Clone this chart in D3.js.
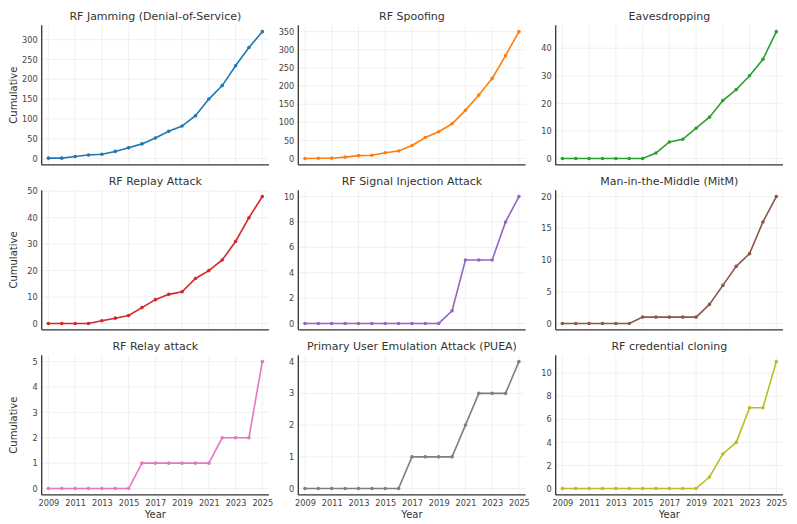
<!DOCTYPE html>
<html>
<head>
<meta charset="utf-8">
<script src="https://cdn.jsdelivr.net/npm/d3@7"></script>
<style>
  body { margin: 0; background: #fff; }
  svg text { font-family: "DejaVu Sans", sans-serif; }
  .title { font-size: 11px; fill: #333; text-anchor: middle; }
  .tick text { font-size: 8.2px; fill: #444; font-family: "DejaVu Sans", sans-serif; }
  .lab { font-size: 10px; fill: #333; text-anchor: middle; }
</style>
</head>
<body>
<div id="chart"></div>
<script>
let years = d3.range(2009, 2026);
let yearTicks = [2009, 2011, 2013, 2015, 2017, 2019, 2021, 2023, 2025];

let titles = [
  "RF Jamming (Denial-of-Service)", "RF Spoofing", "Eavesdropping",
  "RF Replay Attack", "RF Signal Injection Attack", "Man-in-the-Middle (MitM)",
  "RF Relay attack", "Primary User Emulation Attack (PUEA)", "RF credential cloning"
];
let colors = ["#1f77b4", "#ff7f0e", "#2ca02c", "#d62728", "#9467bd", "#8c564b", "#e377c2", "#7f7f7f", "#bcbd22"];

let jamming = [1, 1, 5, 9, 11, 18, 27, 37, 52, 69, 82, 108, 150, 184, 234, 280, 320];
let spoofing = [0, 1, 1, 4, 8, 9, 16, 21, 36, 58, 74, 96, 133, 175, 221, 284, 350];
let eavesdropping = [0, 0, 0, 0, 0, 0, 0, 2, 6, 7, 11, 15, 21, 25, 30, 36, 46];
let replay = [0, 0, 0, 0, 1, 2, 3, 6, 9, 11, 12, 17, 20, 24, 31, 40, 48];
let injection = [0, 0, 0, 0, 0, 0, 0, 0, 0, 0, 0, 1, 5, 5, 5, 8, 10];
let mitm = [0, 0, 0, 0, 0, 0, 1, 1, 1, 1, 1, 3, 6, 9, 11, 16, 20];
let relay = [0, 0, 0, 0, 0, 0, 0, 1, 1, 1, 1, 1, 1, 2, 2, 2, 5];
let puea = [0, 0, 0, 0, 0, 0, 0, 0, 1, 1, 1, 1, 2, 3, 3, 3, 4];
let cloning = [0, 0, 0, 0, 0, 0, 0, 0, 0, 0, 0, 1, 3, 4, 7, 7, 11];

let series = [jamming, spoofing, eavesdropping, replay, injection, mitm, relay, puea, cloning];

let width = 797;
let height = 524;
let colLeft = [41.7, 298.3, 555.7];
let rowTop = [25.3, 190.2, 355.3];
let plotW = 227.3;
let plotH = 139.6;

let svg = d3.select("#chart").append("svg")
  .attr("width", width)
  .attr("height", height);

series.forEach(function(vals, i) {
  let col = i % 3;
  let row = Math.floor(i / 3);
  let maxV = d3.max(vals);
  let pad = maxV * 0.05;

  let g = svg.append("g")
    .attr("transform", "translate(" + colLeft[col] + "," + rowTop[row] + ")");

  let x = d3.scaleLinear().domain([2008.5, 2025.5]).range([0, plotW]);
  let y = d3.scaleLinear().domain([-pad, maxV + pad]).range([plotH, 0]);
  let yTicks = y.ticks(6);

  // grid
  g.selectAll(".vgrid").data(yearTicks).enter().append("line")
    .attr("x1", d => x(d)).attr("x2", d => x(d))
    .attr("y1", 0).attr("y2", plotH)
    .attr("stroke", "#ececec").attr("stroke-width", 0.8);
  g.selectAll(".hgrid").data(yTicks).enter().append("line")
    .attr("x1", 0).attr("x2", plotW)
    .attr("y1", d => y(d)).attr("y2", d => y(d))
    .attr("stroke", "#ececec").attr("stroke-width", 0.8);

  // axes
  let yAxis = d3.axisLeft(y).tickValues(yTicks).tickSize(0).tickPadding(4)
    .tickFormat(d3.format("d"));
  let yg = g.append("g").call(yAxis);
  yg.select(".domain").remove();

  let xAxis = d3.axisBottom(x).tickValues(yearTicks).tickSize(0).tickPadding(5)
    .tickFormat(d3.format("d"));
  let xg = g.append("g").attr("transform", "translate(0," + plotH + ")").call(xAxis);
  xg.select(".domain").remove();
  if (row < 2) xg.selectAll("text").remove();

  // spines
  g.append("line").attr("x1", 0).attr("x2", 0).attr("y1", 0).attr("y2", plotH)
    .attr("stroke", "#333").attr("stroke-width", 1.3);
  g.append("line").attr("x1", 0).attr("x2", plotW).attr("y1", plotH).attr("y2", plotH)
    .attr("stroke", "#333").attr("stroke-width", 1.3);

  // line + markers
  let pts = years.map((yr, k) => [yr, vals[k]]);
  g.append("path")
    .datum(pts)
    .attr("fill", "none")
    .attr("stroke", colors[i])
    .attr("stroke-width", 1.6)
    .attr("d", d3.line().x(d => x(d[0])).y(d => y(d[1])));
  g.selectAll(".pt").data(pts).enter().append("circle")
    .attr("cx", d => x(d[0])).attr("cy", d => y(d[1]))
    .attr("r", 1.8)
    .attr("fill", colors[i]);

  // title
  g.append("text").attr("class", "title")
    .attr("x", plotW / 2).attr("y", -5.5)
    .text(titles[i]);

  if (col === 0) {
    g.append("text").attr("class", "lab")
      .attr("transform", "translate(" + (13.3 - colLeft[0]) + "," + (plotH / 2) + ")rotate(-90)")
      .attr("dy", "0.35em")
      .text("Cumulative");
  }
  if (row === 2) {
    g.append("text").attr("class", "lab")
      .attr("x", plotW / 2).attr("y", plotH + 23.5)
      .text("Year");
  }
});
</script>
</body>
</html>
